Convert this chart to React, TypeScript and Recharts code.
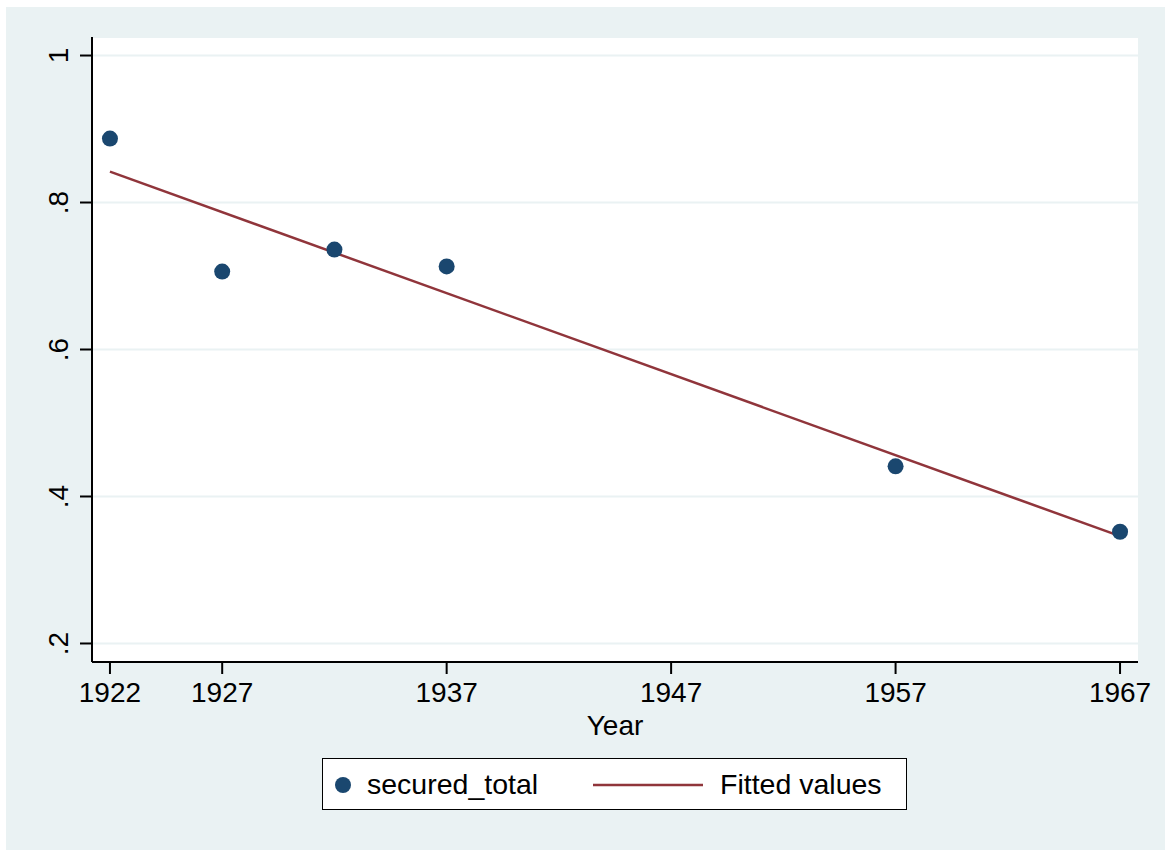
import { ComposedChart, Scatter, Line, XAxis, YAxis, CartesianGrid, Legend, Label } from 'recharts'

const years = [1922, 1927, 1932, 1937, 1957, 1967]
const securedTotal = [0.887, 0.706, 0.736, 0.713, 0.441, 0.352]
const fittedYears = [1922, 1967]
const fittedValues = [0.842, 0.346]
const xTicks = [1922, 1927, 1937, 1947, 1957, 1967]
const yTicks = [0.2, 0.4, 0.6, 0.8, 1]
const yTickLabels = ['.2', '.4', '.6', '.8', '1']

const securedData = years.map((year, i) => ({ year, value: securedTotal[i] }))
const fittedData = fittedYears.map((year, i) => ({ year, value: fittedValues[i] }))

const FONT = '"Liberation Sans", Arial, Helvetica, sans-serif'
const NAVY = '#1A476F'
const MAROON = '#90353B'
const BG = '#EAF2F3'
const LEGEND_H = 52

const YTick = ({ x, y, payload }: any) => {
  const idx = yTicks.indexOf(payload.value)
  const label = idx >= 0 ? yTickLabels[idx] : String(payload.value)
  return (
    <text
      x={x}
      y={y}
      transform={`rotate(-90, ${x}, ${y})`}
      textAnchor="middle"
      fontSize={28}
      fontFamily={FONT}
      fill="#000"
    >
      {label}
    </text>
  )
}

const Dot = (props: any) => <circle cx={props.cx} cy={props.cy} r={8} fill={NAVY} />

const renderLegend = () => (
  <div
    style={{
      width: 585,
      height: LEGEND_H,
      border: '1.5px solid #000',
      background: '#fff',
      display: 'flex',
      alignItems: 'center',
      fontFamily: FONT,
      fontSize: 28.5,
      color: '#000',
      boxSizing: 'border-box',
    }}
  >
    <svg width={44} height={48} style={{ display: 'block' }}>
      <circle cx={20} cy={25} r={8} fill={NAVY} />
    </svg>
    <span style={{ width: 226 }}>secured_total</span>
    <svg width={127} height={48} style={{ display: 'block' }}>
      <line x1={0} y1={25} x2={110} y2={25} stroke={MAROON} strokeWidth={2.5} />
    </svg>
    <span>Fitted values</span>
  </div>
)

export default function App() {
  return (
    <div style={{ position: 'absolute', left: 0, top: 0, width: 1165, height: 850, background: '#fff' }}>
      <div style={{ position: 'absolute', left: 6, top: 7, width: 1159, height: 843, background: BG }}>
        <ComposedChart
          width={1159}
          height={843}
          margin={{ top: 30, right: 27, bottom: 108 - LEGEND_H, left: 26 }}
          style={{ fontFamily: FONT }}
        >
          <CartesianGrid horizontal vertical={false} stroke={BG} strokeWidth={2} fill="#fff" />
          <XAxis
            type="number"
            dataKey="year"
            domain={[1921.2, 1967.8]}
            ticks={xTicks}
            interval={0}
            allowDataOverflow
            height={80}
            tickSize={12}
            tickMargin={8}
            stroke="#000"
            strokeWidth={2}
            tick={{ fill: '#000', fontSize: 28, fontFamily: FONT }}
            label={
              <Label
                content={({ viewBox }: any) => (
                  <text
                    x={viewBox.x + viewBox.width / 2}
                    y={viewBox.y + 73}
                    textAnchor="middle"
                    fontSize={28}
                    fontFamily={FONT}
                    fill="#000"
                  >
                    Year
                  </text>
                )}
              />
            }
          />
          <YAxis
            type="number"
            dataKey="value"
            domain={[0.1748, 1.0252]}
            ticks={yTicks}
            interval={0}
            allowDataOverflow
            width={60}
            tickSize={12}
            tickMargin={12}
            stroke="#000"
            strokeWidth={2}
            tick={<YTick />}
          />
          <Legend
            verticalAlign="bottom"
            align="left"
            content={renderLegend}
            wrapperStyle={{ left: 316, top: 751, bottom: 'auto', width: 585, height: LEGEND_H }}
          />
          <Scatter data={securedData} dataKey="value" shape={Dot} isAnimationActive={false} legendType="circle" />
          <Line
            data={fittedData}
            dataKey="value"
            type="linear"
            stroke={MAROON}
            strokeWidth={2.5}
            dot={false}
            activeDot={false}
            isAnimationActive={false}
          />
        </ComposedChart>
      </div>
    </div>
  )
}
